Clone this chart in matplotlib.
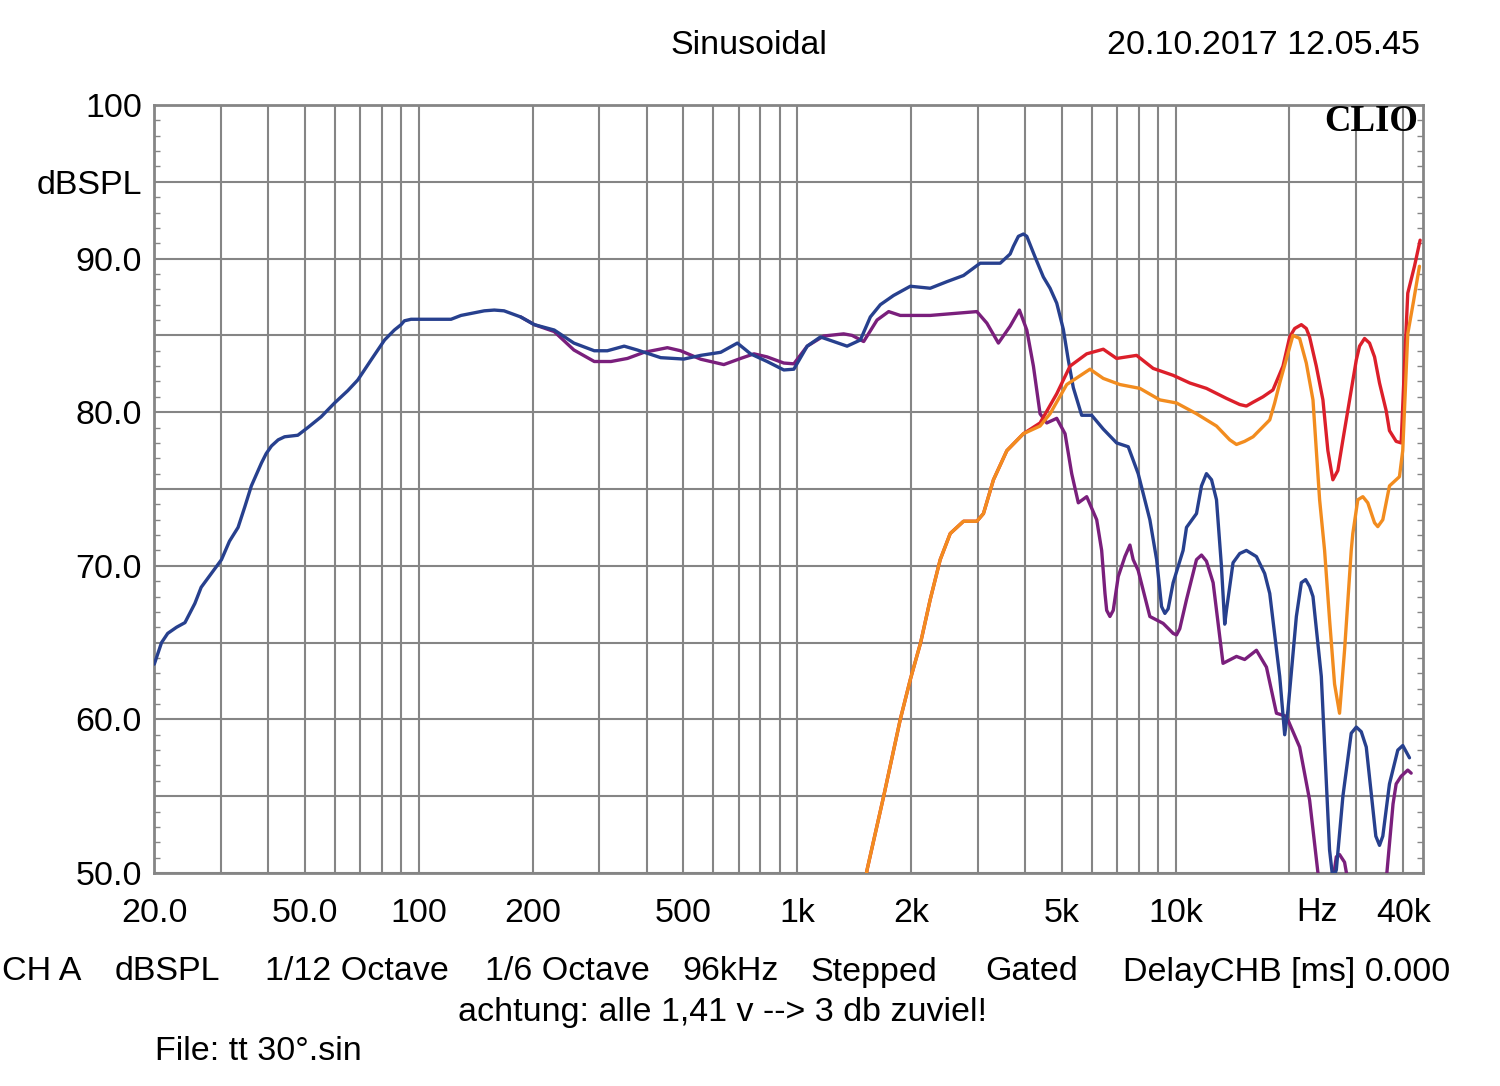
import matplotlib
matplotlib.use("Agg")
import matplotlib.pyplot as plt
from matplotlib.ticker import FixedLocator, NullFormatter, MultipleLocator

plt.rcParams['font.family'] = ['Liberation Sans', 'DejaVu Sans']

# ---------------- data (Hz, dBSPL) ----------------
blue_f = [20, 20.9, 21.7, 22.9, 24.1, 25.6, 26.6, 28.3, 30.1, 31.6, 33.3, 34.7, 36.1, 38.4,
          39.5, 40.8, 42.5, 44.2, 47.9, 50.9, 55.2, 59.9, 64.9, 69.0, 74.8, 81.2, 86.2,
          89.8, 91.6, 95.4, 121.7, 129.3, 149, 158.3, 168, 186, 202, 228, 257, 291, 315,
          349, 378, 436, 502, 556, 628, 695, 753, 833, 922, 980, 1063, 1152, 1250, 1355,
          1469, 1561, 1659, 1798, 1991, 2247, 2488, 2752, 3045, 3440, 3655, 3728, 3843,
          3962, 4045, 4254, 4474, 4660, 4853, 5051, 5207, 5368, 5649, 6003, 6442, 6987,
          7499, 7966, 8553, 8913, 9093, 9184, 9372, 9561, 9856, 10470, 10690, 11360, 11710,
          12070, 12450, 12830, 13220, 13490, 13630, 14190, 14780, 15390, 16360, 17200,
          17740, 18850, 19430, 19820, 20860, 21500, 22070, 22610, 23080, 24280, 25270,
          25530, 26050, 26600, 27690, 29130, 30040, 30960, 31920, 33830, 34600, 35300,
          36760, 38670, 39860, 41520]
blue_db = [63.6, 65.0, 65.6, 66.0, 66.3, 67.55, 68.6, 69.5, 70.4, 71.6, 72.5, 73.85, 75.2, 76.7,
           77.3, 77.8, 78.2, 78.4, 78.5, 79.0, 79.7, 80.6, 81.4, 82.1, 83.4, 84.7, 85.35,
           85.7, 85.95, 86.05, 86.05, 86.3, 86.6, 86.65, 86.6, 86.2, 85.7, 85.35, 84.5, 84.0, 84.0,
           84.3, 84.05, 83.55, 83.46, 83.7, 83.9, 84.5, 83.8, 83.3, 82.75, 82.8, 84.3, 84.9, 84.6, 84.3,
           84.7, 86.2, 87.0, 87.6, 88.2, 88.07, 88.5, 88.9, 89.7, 89.7, 90.3, 90.8, 91.45,
           91.6, 91.45, 90.1, 88.8, 88.07, 87.1, 85.4, 83.4, 81.6, 79.8, 79.8, 78.9, 78.0,
           77.75, 76.0, 73.0, 70.4, 68.4, 67.35, 66.9, 67.2, 68.9, 71.0, 72.5, 73.4, 75.2,
           76.0, 75.6, 74.3, 70.0, 66.2, 67.1, 70.2, 70.8, 71.0, 70.6, 69.5,
           68.2, 62.8, 59.0, 60.6, 66.7, 68.9, 69.1, 68.65, 68.0, 62.8, 53.7,
           51.5, 49.6, 50.2, 55.0, 59.1, 59.5, 59.2, 58.2, 52.4, 51.8, 52.4,
           55.8, 58.0, 58.3, 57.5]

purple_f = [186, 202, 228, 257, 291, 322, 356, 394, 454, 492, 556, 640, 709, 769, 833, 922,
            980, 1063, 1175, 1327, 1397, 1499, 1626, 1745, 1873, 2247, 2985, 3172, 3403,
            3655, 3867, 4045, 4211, 4385, 4567, 4853, 5105, 5316, 5534, 5824, 6189, 6379,
            6509, 6577, 6708, 6845, 7056, 7349, 7576, 7728, 7966, 8553, 9275, 9855, 10060,
            10260, 10690, 11360, 11710, 12070, 12570, 13350, 14490, 15230, 16360, 17390,
            18480, 19630, 21280, 22610, 23790, 24770, 26050, 26600, 27130, 27970, 28530,
            30640, 36030, 36760, 37570, 38290, 39470, 41090, 41950]
purple_db = [86.2, 85.7, 85.25, 84.05, 83.3, 83.3, 83.5, 83.9, 84.2, 84.0, 83.45, 83.1, 83.5,
             83.8, 83.6, 83.2, 83.15, 84.3, 84.96, 85.1, 85.0, 84.6, 86.0, 86.55, 86.3, 86.3,
             86.55, 85.8, 84.5, 85.6, 86.65, 85.35, 83.0, 79.9, 79.3, 79.6, 78.6, 76.0, 74.1,
             74.5, 73.0, 71.0, 68.2, 67.1, 66.7, 67.1, 69.3, 70.6, 71.35, 70.4, 69.7, 66.7,
             66.25, 65.6, 65.5, 65.9, 67.8, 70.4, 70.7, 70.3, 68.9, 63.65, 64.1, 63.9, 64.5,
             63.4, 60.4, 60.2, 58.2, 54.75, 50.0, 48.5, 49.5, 51.05, 51.2, 50.7, 49.5,
             47.0, 49.5, 51.9, 54.5, 55.8, 56.3, 56.7, 56.5]

red_f = [1480, 1530, 1693, 1873, 1991, 2120, 2247, 2388, 2538, 2752, 2985, 3107, 3302,
         3583, 3962, 4385, 4853, 5262, 5824, 6442, 6987, 7890, 8728, 9856, 10910, 12070,
         13630, 14780, 15390, 16030, 17020, 18090, 19230, 20030, 20650, 21500, 22160,
         22610, 23550, 24520, 25270, 26050, 26850, 27690, 28840, 30040, 30640, 31590,
         32560, 33570, 34600, 36030, 36760, 38290, 39470, 40270, 41090, 42800, 44300]
red_db = [48.0, 50.2, 55.0, 60.0, 62.6, 65.0, 67.8, 70.4, 72.1, 72.9, 72.9, 73.4, 75.6,
          77.5, 78.6, 79.3, 81.2, 83.0, 83.8, 84.1, 83.5, 83.7, 82.85, 82.4, 81.9, 81.55,
          80.9, 80.5, 80.4, 80.65, 81.0, 81.45, 83.0, 84.9, 85.45, 85.7, 85.45,
          84.9, 83.0, 80.8, 77.5, 75.6, 76.2, 78.2, 80.8, 83.4, 84.3, 84.8,
          84.5, 83.6, 81.9, 80.1, 78.8, 78.1, 78.0, 83.0, 87.75, 89.5, 91.2]

orange_f = [1480, 1530, 1693, 1873, 1991, 2120, 2247, 2388, 2538, 2752, 2985, 3107, 3302,
            3583, 3962, 4385, 4660, 5157, 5941, 6442, 7129, 8051, 9093, 10060, 11360,
            12830, 13910, 14490, 15220, 16030, 17740, 18280, 18850, 20430, 21280, 22160,
            23080, 24030, 24770, 25530, 26320, 27130, 27970, 29130, 29410, 30320, 31260,
            32220, 33570, 34240, 35300, 36760, 39060, 39850, 41090, 42540, 44120]
orange_db = [48.0, 50.2, 55.0, 60.0, 62.6, 65.0, 67.8, 70.4, 72.1, 72.9, 72.9, 73.4, 75.6,
             77.5, 78.6, 79.1, 79.9, 81.8, 82.8, 82.2, 81.8, 81.55, 80.8, 80.6, 79.9,
             79.1, 78.2, 77.9, 78.1, 78.4, 79.5, 80.6, 81.9, 85.0, 84.8, 83.2,
             80.8, 74.3, 71.0, 66.5, 62.3, 60.4, 64.5, 71.0, 72.1, 74.3, 74.5,
             74.1, 72.8, 72.55, 73.0, 75.2, 75.8, 77.5, 85.1, 87.2, 89.5]

x_major = [20, 50, 100, 200, 500, 1000, 2000, 5000, 10000, 40000]
x_major_labels = ["20.0", "50.0", "100", "200", "500", "1k", "2k", "5k", "10k", "40k"]
x_minor = [30, 40, 60, 70, 80, 90, 300, 400, 600, 700, 800, 900,
           3000, 4000, 6000, 7000, 8000, 9000, 20000, 30000]
y_major = [50, 55, 60, 65, 70, 75, 80, 85, 90, 95, 100]
y_major_labels = ["50.0", "", "60.0", "", "70.0", "", "80.0", "", "90.0", "dBSPL", "100"]

# ---------------- figure ----------------
W, H = 1500, 1086
fig = plt.figure(figsize=(W / 100, H / 100), dpi=100)
fig.patch.set_facecolor('white')
ax = fig.add_axes([154.3 / W, 1 - 873 / H, (1422.7 - 154.3) / W, (873 - 105) / H])
ax.set_xscale('log')
ax.set_xlim(20, 45000)
ax.set_ylim(50, 100)

gridc = '#858585'
ax.xaxis.set_major_locator(FixedLocator(x_major))
ax.set_xticklabels(x_major_labels)
ax.xaxis.set_minor_locator(FixedLocator(x_minor))
ax.xaxis.set_minor_formatter(NullFormatter())
ax.yaxis.set_major_locator(FixedLocator(y_major))
ax.set_yticklabels(y_major_labels)
ax.yaxis.set_minor_locator(MultipleLocator(1))

ax.grid(True, axis='x', which='both', color=gridc, lw=1.5)
ax.grid(True, axis='y', which='major', color=gridc, lw=1.5)
ax.set_axisbelow(True)

ax.tick_params(axis='x', which='both', length=0, pad=18, labelsize=24.5, colors='black')
ax.tick_params(axis='y', which='major', length=0, pad=9, labelsize=24.5)
ax.tick_params(axis='y', which='minor', direction='in', left=True, right=True,
               length=4, width=1, color=gridc)
for s in ax.spines.values():
    s.set_color(gridc)
    s.set_linewidth(2)

lw = 2.4
kw = dict(lw=lw, solid_joinstyle='round', solid_capstyle='round')
ax.plot(purple_f, purple_db, color='#7a1f7c', zorder=3, **kw)
ax.plot(blue_f, blue_db, color='#27408e', zorder=4, **kw)
ax.plot(red_f, red_db, color='#dc1f2a', zorder=5, **kw)
ax.plot(orange_f, orange_db, color='#f28c1f', zorder=6, **kw)

# "Hz" unit label under the axis
ax.text(23600, -0.051, "Hz", transform=ax.get_xaxis_transform(), ha='center', va='center',
        fontsize=24.5)

ax.text(0.9965, 0.978, "CLIO", transform=ax.transAxes, ha='right', va='center',
        fontsize=26.5, fontweight='bold', family=['Liberation Serif', 'DejaVu Serif'])

def ftext(x, y, s, **kw):
    fig.text(x / W, 1 - y / H, s, fontsize=24.5, va='center', **kw)

ftext(749, 45, "Sinusoidal", ha='center')
ftext(1420, 45, "20.10.2017 12.05.45", ha='right')

ftext(2, 972, "CH A", ha='left')
ftext(115, 972, "dBSPL", ha='left')
ftext(265, 972, "1/12 Octave", ha='left')
ftext(485, 972, "1/6 Octave", ha='left')
ftext(682, 972, "96kHz", ha='left')
ftext(810, 972, "Stepped", ha='left')
ftext(985, 972, "Gated", ha='left')
ftext(1123, 972, "DelayCHB [ms] 0.000", ha='left')
ftext(723, 1012, "achtung: alle 1,41 v --> 3 db zuviel!", ha='center')
ftext(155, 1051, "File: tt 30°.sin", ha='left')

fig.savefig("out.png", dpi=100, facecolor='white')
